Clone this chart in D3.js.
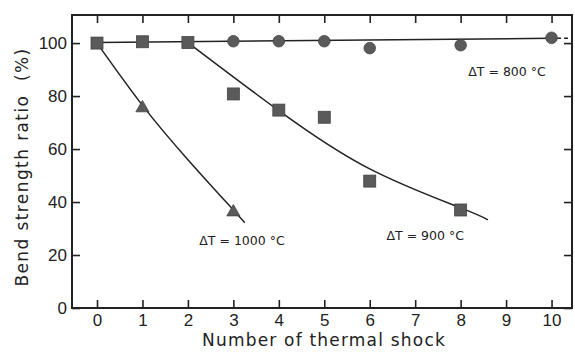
<!DOCTYPE html>
<html>
<head>
<meta charset="utf-8">
<script src="https://cdn.jsdelivr.net/npm/d3@7"></script>
<style>
  body { margin: 0; background: #fff; }
  svg { display: block; font-family: "DejaVu Sans", sans-serif; }
  .tick text { font-size: 17px; fill: #222; }
  .domain { display: none; }
  .tick line { stroke: #222; stroke-width: 1.6; }
</style>
</head>
<body>
<svg id="chart" width="575" height="352"></svg>
<script>
const svg = d3.select("#chart");
const width = +svg.attr("width");
const height = +svg.attr("height");
const margin = { top: 15, right: 3, bottom: 44, left: 72 };
const innerWidth = width - margin.left - margin.right;
const innerHeight = height - margin.top - margin.bottom;

// measured points
const shocks800 = [3, 4, 5, 6, 8, 10];
const ratio800 = [100.7, 100.7, 100.7, 98.1, 99.2, 102];
const shocks900 = [0, 1, 2, 3, 4, 5, 6, 8];
const ratio900 = [100, 100.5, 100.2, 80.8, 74.7, 72, 47.9, 37];
const shocks1000 = [1, 3];
const ratio1000 = [75.5, 36.2];

// hand-drawn trend curves
const curve800X = [0, 10];
const curve800Y = [100.2, 101.8];
const curve900X = [2, 4, 6, 8, 8.6];
const curve900Y = [100.2, 74.5, 52.5, 37.8, 33.3];
const curve1000X = [0, 1, 2, 3, 3.25];
const curve1000Y = [100, 76.5, 56, 37, 32.2];

const xTicks = [0, 1, 2, 3, 4, 5, 6, 7, 8, 9, 10];
const yTicks = [0, 20, 40, 60, 80, 100];

const labels = [
  { text: "ΔT = 800 °C", x: 9.02, y: 87.5 },
  { text: "ΔT = 900 °C", x: 7.22, y: 25.7 },
  { text: "ΔT = 1000 °C", x: 3.19, y: 23.8 }
];

const xScale = d3.scaleLinear().domain([-0.55, 10.45]).range([0, innerWidth]);
const yScale = d3.scaleLinear().domain([0, 110.6]).range([innerHeight, 0]);

const g = svg.append("g").attr("transform", `translate(${margin.left},${margin.top})`);

// axes, ticks pointing inward
g.append("g")
  .attr("transform", `translate(0,${innerHeight})`)
  .call(d3.axisBottom(xScale).tickValues(xTicks).tickSize(-8).tickPadding(4))
  .selectAll("text").attr("dy", "0.85em");
g.append("g")
  .call(d3.axisTop(xScale).tickValues(xTicks).tickSize(-8))
  .selectAll("text").remove();
g.append("g")
  .call(d3.axisLeft(yScale).tickValues(yTicks).tickSize(-8).tickPadding(5));
g.append("g")
  .attr("transform", `translate(${innerWidth},0)`)
  .call(d3.axisRight(yScale).tickValues(yTicks).tickSize(-8))
  .selectAll("text").remove();

g.append("rect")
  .attr("width", innerWidth)
  .attr("height", innerHeight)
  .attr("fill", "none")
  .attr("stroke", "#222")
  .attr("stroke-width", 2);

// curves
const line = d3.line()
  .x(d => xScale(d[0]))
  .y(d => yScale(d[1]))
  .curve(d3.curveNatural);

const curves = [
  d3.zip(curve800X, curve800Y),
  d3.zip(curve900X, curve900Y),
  d3.zip(curve1000X, curve1000Y)
];
g.selectAll("path.fit")
  .data(curves)
  .enter()
  .append("path")
  .attr("class", "fit")
  .attr("d", line)
  .attr("fill", "none")
  .attr("stroke", "#222")
  .attr("stroke-width", 1.5);

// dashed tail of 800 line
g.append("path")
  .attr("d", line([[10.12, 101.8], [10.45, 101.8]]))
  .attr("fill", "none")
  .attr("stroke", "#222")
  .attr("stroke-width", 1.5)
  .attr("stroke-dasharray", "4,3");

const markFill = "#5a5a5a";

g.selectAll("circle.p800")
  .data(d3.zip(shocks800, ratio800))
  .enter()
  .append("circle")
  .attr("cx", d => xScale(d[0]))
  .attr("cy", d => yScale(d[1]))
  .attr("r", 5.8)
  .attr("fill", markFill)
  .attr("stroke", "#444")
  .attr("stroke-width", 0.8);

g.selectAll("rect.p900")
  .data(d3.zip(shocks900, ratio900))
  .enter()
  .append("rect")
  .attr("x", d => xScale(d[0]) - 6)
  .attr("y", d => yScale(d[1]) - 6)
  .attr("width", 12)
  .attr("height", 12)
  .attr("fill", markFill)
  .attr("stroke", "#444")
  .attr("stroke-width", 0.8);

g.selectAll("path.p1000")
  .data(d3.zip(shocks1000, ratio1000))
  .enter()
  .append("path")
  .attr("d", d3.symbol(d3.symbolTriangle, 75))
  .attr("transform", d => `translate(${xScale(d[0])},${yScale(d[1])})`)
  .attr("fill", markFill)
  .attr("stroke", "#444")
  .attr("stroke-width", 0.8);

g.selectAll("text.lab")
  .data(labels)
  .enter()
  .append("text")
  .attr("x", d => xScale(d.x))
  .attr("y", d => yScale(d.y))
  .attr("text-anchor", "middle")
  .attr("font-size", 12.5)
  .attr("fill", "#222")
  .text(d => d.text);

// axis titles
svg.append("text")
  .attr("x", 324)
  .attr("y", 346)
  .attr("text-anchor", "middle")
  .attr("font-size", 17)
  .attr("letter-spacing", 1.2)
  .attr("fill", "#222")
  .text("Number of thermal shock");

svg.append("text")
  .attr("transform", "translate(28,167) rotate(-90)")
  .attr("text-anchor", "middle")
  .attr("font-size", 17)
  .attr("letter-spacing", 1.4)
  .attr("fill", "#222")
  .text("Bend strength ratio\u00a0\u00a0(%)");
</script>
</body>
</html>
